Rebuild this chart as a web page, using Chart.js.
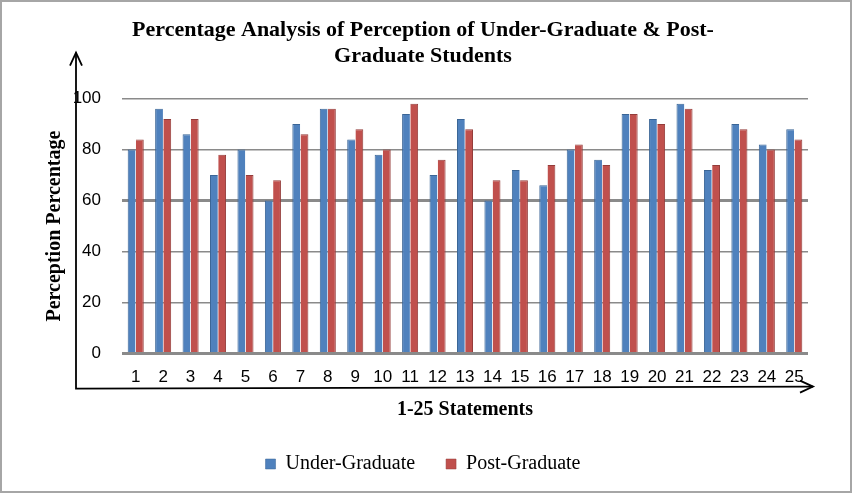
<!DOCTYPE html>
<html>
<head>
<meta charset="utf-8">
<script src="https://cdn.jsdelivr.net/npm/chart.js@4/dist/chart.umd.min.js"></script>
<style>
  body { margin: 0; background: #fff; }
  #wrap { width: 863px; height: 498px; }
</style>
</head>
<body>
<div id="wrap"><canvas id="barplot" width="863" height="498"></canvas></div>
<script>
const statements = ['1','2','3','4','5','6','7','8','9','10','11','12','13','14','15','16','17','18','19','20','21','22','23','24','25'];
const underGraduate = [80,96,86,70,80,60,90,96,84,78,94,70,92,60,72,66,80,76,94,92,98,72,90,82,88];
const postGraduate  = [84,92,92,78,70,68,86,96,88,80,98,76,88,68,68,74,82,74,94,90,96,74,88,80,84];
const yTicks = [0,20,40,60,80,100];

// hand drawn arrows round the plot + frame
const arrows = {
  id: 'arrows',
  afterDraw(chart) {
    const ctx = chart.ctx;
    const a = chart.chartArea;
    const x0 = a.left - 46, y0 = a.bottom + 35, top = a.top - 46, right = a.right + 5;
    ctx.save();
    ctx.strokeStyle = '#000';
    ctx.lineWidth = 1.8;
    ctx.beginPath();
    ctx.moveTo(x0, top); ctx.lineTo(x0, y0); ctx.lineTo(right, y0 - 2);
    ctx.stroke();
    ctx.beginPath();
    ctx.moveTo(x0 - 6, top + 13); ctx.lineTo(x0, top); ctx.lineTo(x0 + 6, top + 13);
    ctx.moveTo(right - 13, y0 - 8); ctx.lineTo(right, y0 - 2); ctx.lineTo(right - 13, y0 + 4);
    ctx.stroke();
    ctx.strokeStyle = '#a6a6a6';
    ctx.lineWidth = 2;
    ctx.strokeRect(1, 1, 850, 491);
    ctx.restore();
  }
};

const data = {
  labels: statements,
  datasets: [{
    label: 'Under-Graduate',
    data: underGraduate,
    backgroundColor: '#4F81BD',
    borderColor: '#3A6596',
    borderWidth: {left: 1, right: 0, top: 1, bottom: 0},
    barPercentage: 0.95,
    categoryPercentage: 0.6
  }, {
    label: 'Post-Graduate',
    data: postGraduate,
    backgroundColor: '#C0504D',
    borderColor: '#943C3A',
    borderWidth: {left: 0, right: 1, top: 1, bottom: 0},
    barPercentage: 0.95,
    categoryPercentage: 0.6
  }]
};

const config = {
  type: 'bar',
  data: data,
  plugins: [arrows],
  options: {
    responsive: false,
    animation: false,
    layout: { padding: { left: 38, right: 55, top: 9, bottom: 14 } },
    plugins: {
      title: {
        display: true,
        text: ['Percentage Analysis of Perception of Under-Graduate & Post-', 'Graduate Students'],
        color: '#000',
        font: { family: 'Liberation Serif', size: 22, weight: 'bold', lineHeight: 1.15 },
        padding: { top: 9, bottom: 30 }
      },
      legend: {
        position: 'bottom',
        labels: {
          color: '#000',
          boxWidth: 10,
          boxHeight: 10,
          padding: 31,
          font: { family: 'Liberation Serif', size: 20 }
        }
      },
      tooltip: { enabled: false }
    },
    scales: {
      x: {
        grid: { display: false },
        border: { display: false },
        ticks: { color: '#000', font: { family: 'Liberation Sans', size: 17 }, padding: 6, maxRotation: 0 },
        title: {
          display: true,
          text: '1-25 Statements',
          color: '#000',
          font: { family: 'Liberation Serif', size: 20, weight: 'bold' },
          padding: { top: 4, bottom: 1 }
        }
      },
      y: {
        min: 0,
        max: 100,
        afterBuildTicks: axis => { axis.ticks = yTicks.map(v => ({ value: v })); },
        afterFit: axis => { axis.width = 84; },
        grid: {
          color: '#8a8a8a',
          lineWidth: c => (c.tick.value === 0 || c.tick.value === 60) ? 3 : 1.5,
          drawTicks: false
        },
        border: { display: false },
        ticks: { color: '#000', font: { family: 'Liberation Sans', size: 17 }, padding: 21 },
        title: {
          display: true,
          text: 'Perception Percentage',
          color: '#000',
          font: { family: 'Liberation Serif', size: 20, weight: 'bold' },
          padding: { top: 5, bottom: 6 }
        }
      }
    }
  }
};

const myChart = new Chart(document.getElementById('barplot'), config);
</script>
</body>
</html>
